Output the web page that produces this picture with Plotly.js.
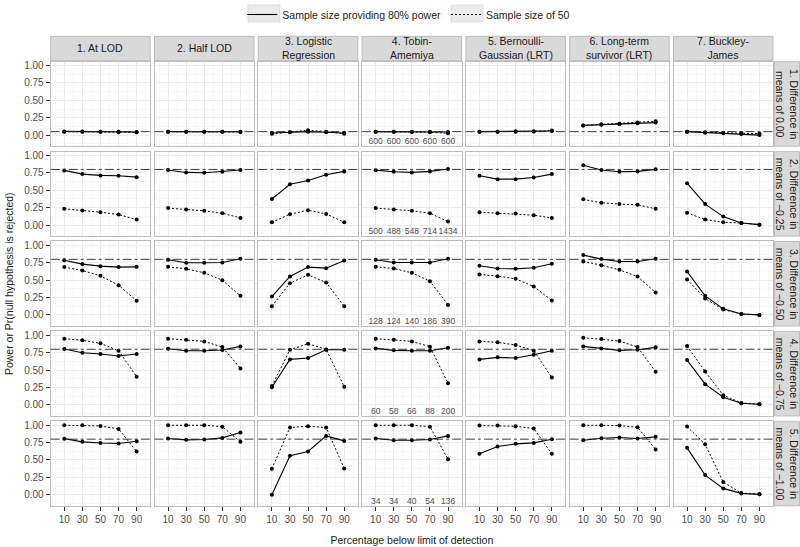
<!DOCTYPE html>
<html>
<head>
<meta charset="utf-8">
<script src="https://cdn.plot.ly/plotly-3.0.1.min.js"></script>
<style>html,body{margin:0;padding:0;background:#fff;} #chart{width:800px;height:547px;}</style>
</head>
<body>
<div id="chart"></div>
<script>
// ---------------- DATA ----------------
const pct = [10, 30, 50, 70, 90];
const methods = ["1. At LOD", "2. Half LOD", "3. Logistic<br>Regression", "4. Tobin-<br>Amemiya",
  "5. Bernoulli-<br>Gaussian (LRT)", "6. Long-term<br>survivor (LRT)", "7. Buckley-<br>James"];
const diffs = ["1. Difference in<br>means of 0.00", "2. Difference in<br>means of \u22120.25",
  "3. Difference in<br>means of \u22120.50", "4. Difference in<br>means of \u22120.75",
  "5. Difference in<br>means of \u22121.00"];
const refLine = [0.05, 0.80, 0.80, 0.80, 0.80];
const seriesNames = ["Sample size providing 80% power", "Sample size of 50"];

// power with sample size providing 80% power (one array per method)
const power80_d000 = [[0.053,0.053,0.050,0.048,0.045],[0.050,0.050,0.050,0.050,0.048],[0.030,0.040,0.050,0.040,0.030],[0.050,0.050,0.050,0.048,0.045],[0.050,0.050,0.050,0.052,0.060],[0.140,0.150,0.160,0.170,0.180],[0.050,0.035,0.025,0.015,0.000]];
const power80_d025 = [[0.786,0.733,0.714,0.709,0.689],[0.791,0.757,0.752,0.767,0.791],[0.374,0.587,0.641,0.723,0.772],[0.790,0.767,0.757,0.772,0.806],[0.709,0.660,0.660,0.684,0.733],[0.859,0.791,0.767,0.772,0.801],[0.602,0.301,0.121,0.029,0.005]];
const power80_d050 = [[0.788,0.731,0.702,0.688,0.692],[0.793,0.750,0.750,0.755,0.808],[0.264,0.553,0.688,0.673,0.784],[0.793,0.755,0.755,0.755,0.808],[0.707,0.668,0.663,0.678,0.736],[0.861,0.803,0.769,0.769,0.808],[0.625,0.274,0.087,0.014,0.000]];
const power80_d075 = [[0.803,0.750,0.731,0.702,0.731],[0.808,0.779,0.779,0.788,0.841],[0.253,0.654,0.673,0.793,0.793],[0.812,0.784,0.779,0.779,0.822],[0.654,0.683,0.673,0.720,0.779],[0.841,0.812,0.784,0.793,0.827],[0.644,0.297,0.109,0.023,0.008]];
const power80_d100 = [[0.807,0.761,0.744,0.737,0.770],[0.809,0.790,0.794,0.818,0.895],[0.000,0.560,0.622,0.847,0.775],[0.809,0.785,0.785,0.794,0.847],[0.589,0.694,0.732,0.746,0.799],[0.785,0.813,0.823,0.809,0.833],[0.675,0.282,0.091,0.019,0.005]];

// power with sample size of 50
const power50_d000 = [[0.050,0.050,0.050,0.045,0.040],[0.050,0.050,0.050,0.050,0.045],[0.020,0.040,0.070,0.050,0.020],[0.050,0.050,0.045,0.040,0.025],[0.050,0.050,0.055,0.055,0.065],[0.140,0.155,0.165,0.180,0.200],[0.050,0.040,0.035,0.030,0.020]];
const power50_d025 = [[0.233,0.209,0.184,0.150,0.078],[0.243,0.223,0.204,0.170,0.102],[0.039,0.155,0.214,0.160,0.039],[0.243,0.223,0.204,0.170,0.049],[0.184,0.170,0.165,0.141,0.102],[0.369,0.320,0.301,0.291,0.233],[0.175,0.078,0.039,0.029,0.005]];
const power50_d050 = [[0.688,0.639,0.563,0.428,0.202],[0.692,0.663,0.606,0.500,0.274],[0.125,0.457,0.577,0.466,0.125],[0.692,0.668,0.606,0.486,0.144],[0.582,0.558,0.519,0.409,0.207],[0.769,0.716,0.649,0.553,0.322],[0.510,0.236,0.077,0.014,0.000]];
const power50_d075 = [[0.952,0.928,0.885,0.779,0.405],[0.952,0.938,0.913,0.832,0.524],[0.270,0.793,0.880,0.798,0.260],[0.952,0.938,0.913,0.836,0.311],[0.913,0.899,0.861,0.780,0.393],[0.966,0.947,0.918,0.832,0.475],[0.846,0.480,0.138,0.027,0.008]];
const power50_d100 = [[1.000,1.000,0.990,0.947,0.622],[1.000,1.000,1.000,0.980,0.761],[0.373,0.967,0.986,0.967,0.378],[1.000,1.000,1.000,0.980,0.512],[0.995,0.995,0.986,0.952,0.589],[1.000,1.000,0.995,0.971,0.651],[0.981,0.727,0.182,0.024,0.005]];

// Tobin-Amemiya sample sizes providing 80% power
const sampleSizes = [[600,600,600,600,600],[500,488,548,714,1434],[128,124,140,186,390],[60,58,66,88,200],[34,34,40,54,136]];
const sampleSizeMethod = 3;   // column index of Tobin-Amemiya
const sampleSizeLabelY = -0.10;

const power80 = [power80_d000, power80_d025, power80_d050, power80_d075, power80_d100];
const power50 = [power50_d000, power50_d025, power50_d050, power50_d075, power50_d100];

// ---------------- LAYOUT GEOMETRY ----------------
const W = 800, H = 547;
const colLeft0 = 50.7, colPitch = 103.8, panelW = 99.5;
const rowTop0 = 59, rowPitch = 90.4, panelH = 85;
const stripTop = 33.5, stripRightL = 774.5, stripRightR = 799.5;
const legendKeys = [[248, 280], [451, 483]], legendKeyY = [2, 19];
const nR = diffs.length, nC = methods.length;
const font = "Liberation Sans, Arial, sans-serif";
const traces = [], shapes = [], annotations = [];
const layout = {
  width: W, height: H, margin: {l: 0, r: 0, t: 0, b: 0},
  paper_bgcolor: "#ffffff", plot_bgcolor: "#ffffff",
  font: {family: font, size: 10.5, color: "#1a1a1a"},
  showlegend: true, hovermode: false,
  legend: {orientation: "h", x: 0.511, xanchor: "center", y: 1.0055, yanchor: "top",
    font: {family: font, size: 10.5, color: "#1a1a1a"}, itemwidth: 30, bgcolor: "rgba(0,0,0,0)", traceorder: "normal"}
};
const px = v => v / W, py = v => 1 - v / H;
const lineStyles = [{color: "#000000", width: 1.1}, {color: "#000000", width: 1, dash: "2px,2px"}];

// legend entries (line only, as in the key)
seriesNames.forEach((nm, i) => traces.push({type: "scatter", mode: "lines", x: [null], y: [null],
  name: nm, legendgroup: "g" + i, showlegend: true, legendrank: i + 1, line: lineStyles[i]}));

for (let r = 0; r < nR; r++) {
  for (let c = 0; c < nC; c++) {
    const k = r * nC + c + 1;
    const sx = k === 1 ? "" : String(k);
    const left = colLeft0 + c * colPitch, top = rowTop0 + r * rowPitch;
    const isBottom = r === nR - 1, isLeft = c === 0;
    layout["xaxis" + sx] = {
      domain: [px(left), px(left + panelW)], anchor: "y" + sx, range: [-5, 105],
      tickvals: pct, ticktext: pct.map(String),
      showgrid: true, gridcolor: "#ebebeb", gridwidth: 1,
      minor: {tickvals: [0, 20, 40, 60, 80, 100], showgrid: true, gridcolor: "#f4f4f4", gridwidth: 0.6, ticks: ""},
      zeroline: false, showline: true, mirror: true, linecolor: "#bdbdbd", linewidth: 1,
      ticks: isBottom ? "outside" : "", ticklen: 4, tickcolor: "#333333", tickwidth: 1,
      showticklabels: isBottom, tickfont: {family: font, size: 10, color: "#4d4d4d"}, fixedrange: true
    };
    layout["yaxis" + sx] = {
      domain: [py(top + panelH), py(top)], anchor: "x" + sx, range: [-0.16, 1.057],
      tickvals: [0, 0.25, 0.5, 0.75, 1], tickformat: ".2f",
      showgrid: true, gridcolor: "#ebebeb", gridwidth: 1,
      minor: {tickvals: [-0.125, 0.125, 0.375, 0.625, 0.875], showgrid: true, gridcolor: "#f4f4f4", gridwidth: 0.6, ticks: ""},
      zeroline: false, showline: true, mirror: true, linecolor: "#bdbdbd", linewidth: 1,
      ticks: isLeft ? "outside" : "", ticklen: 4, tickcolor: "#333333", tickwidth: 1,
      showticklabels: isLeft, tickfont: {family: font, size: 10, color: "#4d4d4d"}, fixedrange: true
    };
    // reference line
    shapes.push({type: "line", xref: "x" + sx + " domain", yref: "y" + sx, x0: 0, x1: 1,
      y0: refLine[r], y1: refLine[r], line: {color: "#222222", width: 0.9, dash: "dashdot"}, layer: "above"});
    // series
    traces.push({type: "scatter", mode: "lines+markers", x: pct, y: power50[r][c], xaxis: "x" + sx, yaxis: "y" + sx,
      name: seriesNames[1], legendgroup: "g1", showlegend: false,
      line: lineStyles[1], marker: {color: "#000000", size: 4}, cliponaxis: false});
    traces.push({type: "scatter", mode: "lines+markers", x: pct, y: power80[r][c], xaxis: "x" + sx, yaxis: "y" + sx,
      name: seriesNames[0], legendgroup: "g0", showlegend: false,
      line: lineStyles[0], marker: {color: "#000000", size: 4}, cliponaxis: false});
    if (c === sampleSizeMethod) {
      traces.push({type: "scatter", mode: "text", x: pct, y: pct.map(() => sampleSizeLabelY),
        text: sampleSizes[r].map(String), textposition: "middle center", xaxis: "x" + sx, yaxis: "y" + sx,
        textfont: {family: font, size: 8.5, color: "#4d4d4d"}, showlegend: false});
    }
  }
}

// legend key backgrounds
legendKeys.forEach(([a, b]) => shapes.push({type: "rect", xref: "paper", yref: "paper", x0: px(a), x1: px(b),
  y0: py(legendKeyY[1]), y1: py(legendKeyY[0]), fillcolor: "#ebebeb", line: {color: "#d0d0d0", width: 0.6}, layer: "below"}));

// top strips
for (let c = 0; c < nC; c++) {
  const left = colLeft0 + c * colPitch;
  shapes.push({type: "rect", xref: "paper", yref: "paper", x0: px(left), x1: px(left + panelW),
    y0: py(rowTop0 - 1), y1: py(stripTop), fillcolor: "#d9d9d9", line: {color: "#bdbdbd", width: 1}, layer: "below"});
  annotations.push({xref: "paper", yref: "paper", x: px(left + panelW / 2), y: py((stripTop + rowTop0 - 1) / 2),
    text: methods[c], showarrow: false, xanchor: "center", yanchor: "middle",
    font: {family: font, size: 10.5, color: "#1a1a1a"}});
}
// right strips
for (let r = 0; r < nR; r++) {
  const top = rowTop0 + r * rowPitch;
  shapes.push({type: "rect", xref: "paper", yref: "paper", x0: px(stripRightL), x1: px(stripRightR),
    y0: py(top + panelH), y1: py(top), fillcolor: "#d9d9d9", line: {color: "#bdbdbd", width: 1}, layer: "below"});
  annotations.push({xref: "paper", yref: "paper", x: px((stripRightL + stripRightR) / 2), y: py(top + panelH / 2),
    text: diffs[r], showarrow: false, textangle: 90, xanchor: "center", yanchor: "middle",
    font: {family: font, size: 10.5, color: "#1a1a1a"}});
}
// axis titles (shared)
layout["xaxis" + (4 * nC + 4)].title = {text: "Percentage below limit of detection", font: {family: font, size: 10.5, color: "#1a1a1a"}, standoff: 12};
layout["yaxis" + (2 * nC + 1)].title = {text: "Power or Pr(null hypothesis is rejected)", font: {family: font, size: 10.5, color: "#1a1a1a"}, standoff: 8};

layout.shapes = shapes;
layout.annotations = annotations;
Plotly.newPlot("chart", traces, layout, {staticPlot: true, displayModeBar: false});
</script>
</body>
</html>
